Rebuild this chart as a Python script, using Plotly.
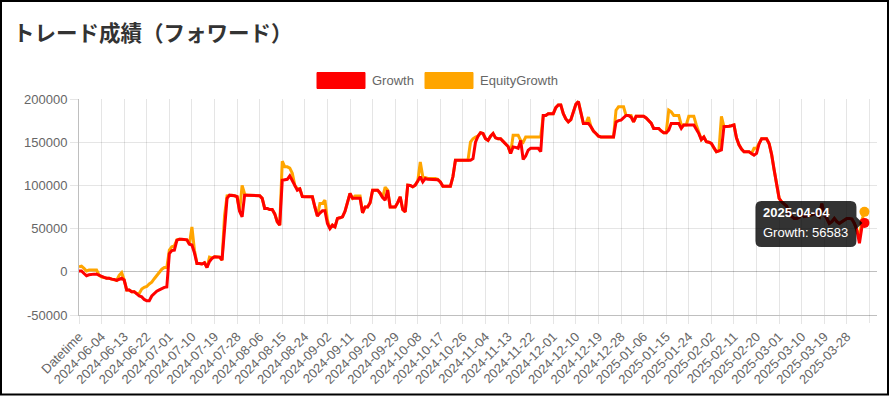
import plotly.graph_objects as go
import pandas as pd

# ---------------- data ----------------
dates = pd.date_range("2024-05-27", "2025-04-04", freq="D").strftime("%Y-%m-%d").tolist()
labels = ["Datetime"] + dates

growth = [
    1000, 1000, -2000, -4500, -3500, -2700, -2700, -2700, -4000, -6000,
    -6500, -7500, -7500, -8500, -8800, -10000, -9000, -7500, -9500, -21000,
    -21000, -23000, -23000, -26000, -28000, -29000, -32000, -33500, -33500, -28000,
    -25000, -22500, -21000, -19500, -18000, -17500, 21000, 24500, 25000, 36500,
    37700, 37700, 37700, 37000, 32000, 31000, 22000, 9700, 9700, 9000,
    10500, 5000, 12000, 15500, 17400, 17400, 17000, 13500, 45000, 85000,
    88700, 88700, 88000, 87000, 70000, 63600, 88700, 88700, 88700, 88700,
    88700, 88700, 88000, 85000, 73400, 73400, 72000, 72000, 67000, 58000,
    54000, 106000, 106500, 107000, 111000, 105000, 99000, 94500, 96000, 87000,
    86800, 86800, 86800, 86800, 75000, 64400, 68000, 70600, 70600, 56000,
    50000, 54000, 52000, 61800, 62500, 63600, 70000, 80000, 90700, 85000,
    85000, 85000, 85000, 68300, 75000, 75000, 80000, 94500, 94500, 94500,
    91000, 86000, 83000, 94500, 75000, 75000, 75000, 80000, 86800, 72000,
    69400, 100300, 100000, 98400, 100300, 105000, 110000, 104000, 108000, 107000,
    107000, 107000, 107000, 106500, 104000, 99000, 99000, 99000, 99000, 110000,
    129000, 129000, 129000, 129000, 129000, 129000, 129000, 131000, 150000, 157000,
    161000, 160000, 154000, 152000, 157000, 160000, 155000, 154000, 154000, 151000,
    148500, 145000, 137000, 144500, 144000, 143000, 152000, 130000, 134000, 140800,
    143000, 143000, 143000, 143000, 139000, 181000, 181000, 183000, 183000, 183000,
    190000, 193000, 193000, 183000, 177000, 173500, 176000, 186000, 194000, 197000,
    185000, 171600, 171600, 171600, 168000, 163000, 160000, 157000, 156000, 156000,
    155500, 155500, 155500, 156000, 173500, 175000, 175500, 178000, 181000, 181000,
    179000, 173500, 180000, 180000, 180000, 180000, 178000, 175500, 172000, 166000,
    166000, 166000, 163000, 161000, 161000, 164000, 171600, 171600, 171600, 171600,
    166000, 170000, 170000, 170000, 170000, 170000, 165000, 160000, 153000, 156000,
    150500, 150000, 148500, 143000, 139000, 140000, 141000, 168000, 168000, 168500,
    169000, 170000, 155000, 147000, 142000, 139000, 139000, 139000, 137000, 135000,
    137000, 148000, 154000, 154000, 154000, 148500, 136000, 118000, 100000, 85000,
    81000, 79000, 76000, 67600, 64000, 61800, 61800, 63000, 68300, 64000,
    64500, 64800, 66000, 67600, 66000, 63500, 79000, 66000, 62000, 56000,
    58000, 61800, 58000, 56000, 58000, 60000, 61800, 61800, 61000, 56000,
    48000, 33000, 52000, 56583,
]

equity_growth = [
    5800, 6500, 4000, 1000, 2000, 2000, 2000, 2000, -4000, -6000,
    -6500, -7500, -7500, -8500, -8800, -10000, -4000, -1000, -9500, -21000,
    -21000, -23000, -23000, -25000, -25000, -20000, -18000, -17000, -14000, -12000,
    -8000, -4000, 0, 3000, 5000, 5000, 25000, 29000, 30000, 37000,
    37700, 37700, 37700, 37000, 32000, 52000, 25000, 9700, 9700, 9000,
    10500, 5000, 17000, 16000, 17400, 17400, 17000, 13500, 65000, 88000,
    88700, 88700, 88000, 87000, 70000, 100000, 90000, 88700, 88700, 88700,
    88700, 88700, 88000, 85000, 73400, 73400, 72000, 72000, 67000, 58000,
    54000, 128000, 121500, 121500, 120000, 114000, 100000, 96000, 96000, 87000,
    86800, 86800, 86800, 86800, 75000, 64400, 79000, 79000, 83000, 60000,
    50000, 54000, 52000, 61800, 62500, 63600, 70000, 80000, 90700, 85000,
    87600, 87600, 87600, 68300, 75000, 75000, 80000, 94500, 94500, 94500,
    91000, 86000, 98000, 94500, 75000, 75000, 75000, 80000, 86800, 72000,
    69400, 100300, 100000, 98400, 100300, 105000, 127000, 110000, 109000, 108000,
    108000, 108000, 108000, 107000, 104000, 99000, 99000, 99000, 99000, 110000,
    129000, 129000, 129000, 129000, 129000, 129000, 150000, 154000, 156000, 157000,
    161000, 160000, 154000, 152000, 157000, 160000, 155000, 154000, 154000, 151000,
    148500, 145000, 137000, 158000, 158000, 158000, 152000, 150000, 156000, 156000,
    156000, 156000, 156000, 156000, 156000, 181000, 181000, 183000, 183000, 183000,
    190000, 193000, 193000, 183000, 177000, 173500, 176000, 186000, 194000, 197000,
    185000, 171600, 171600, 179000, 168000, 163000, 160000, 157000, 156000, 156000,
    155500, 155500, 155500, 156000, 187000, 191000, 191000, 191000, 181000, 181000,
    181000, 173500, 180000, 180000, 180000, 180000, 178000, 175500, 172000, 166000,
    166000, 166000, 163000, 161000, 161000, 187000, 185000, 181000, 181000, 181000,
    170000, 170000, 170000, 180000, 180000, 180000, 170000, 160000, 153000, 156000,
    150500, 150000, 148500, 143000, 139000, 140000, 180000, 168000, 168000, 168500,
    169000, 170000, 155000, 147000, 142000, 139000, 139000, 139000, 137000, 143000,
    143000, 148000, 154000, 154000, 154000, 148500, 136000, 118000, 100000, 85000,
    81000, 79000, 76000, 67600, 64000, 61800, 61800, 63000, 68300, 64000,
    64500, 64800, 66000, 67600, 66000, 63500, 79000, 66000, 62000, 56000,
    58000, 61800, 58000, 56000, 58000, 60000, 61800, 61800, 61000, 56000,
    48000, 40000, 60000, 69400,
]

x_tick_labels = labels[::9]
y_ticks = [-50000, 0, 50000, 100000, 150000, 200000]
series_names = ["Growth", "EquityGrowth"]

if len(growth) != len(labels) or len(equity_growth) != len(labels):
    raise SystemExit(f"length mismatch {len(labels)} {len(growth)} {len(equity_growth)}")

# ---------------- figure ----------------
RED = "#FF0000"
ORANGE = "#FFA500"
W, H = 891, 396
ML, MR, MT, MB = 79, 14, 99, 81
PW, PH = W - ML - MR, H - MT - MB


def px(xp):
    return (xp - ML) / PW


def py(yp):
    return (H - MB - yp) / PH


fig = go.Figure()
fig.add_trace(go.Scatter(x=labels, y=equity_growth, mode="lines", name=series_names[1],
                         line=dict(color=ORANGE, width=3)))
fig.add_trace(go.Scatter(x=labels, y=growth, mode="lines", name=series_names[0],
                         line=dict(color=RED, width=3)))
fig.add_trace(go.Scatter(x=[labels[-1]], y=[equity_growth[-1]], mode="markers",
                         marker=dict(color=ORANGE, size=10)))
fig.add_trace(go.Scatter(x=[labels[-1]], y=[growth[-1]], mode="markers",
                         marker=dict(color=RED, size=10)))

grid = "rgba(0,0,0,0.1)"
axisline = "rgba(0,0,0,0.25)"
tickfont = dict(family="Liberation Sans, Arial, sans-serif", size=13, color="#666")

fig.update_layout(
    width=W, height=H,
    margin=dict(l=ML, r=MR, t=MT, b=MB),
    paper_bgcolor="white", plot_bgcolor="white",
    showlegend=False, hovermode=False,
    title=dict(text="トレード成績（フォワード）", xref="container", yref="container",
               x=13 / W, xanchor="left", y=1 - 33 / H, yanchor="middle",
               font=dict(family="Noto Sans CJK JP", size=21.5, color="#333", weight="bold")),
    xaxis=dict(type="category", range=[0, 318], tickmode="array",
               tickvals=x_tick_labels, ticktext=x_tick_labels, tickangle=-45,
               showgrid=True, gridcolor=grid, gridwidth=1,
               ticks="outside", ticklen=8, tickcolor=grid,
               showline=True, linecolor=axisline, linewidth=1,
               tickfont=tickfont, automargin=False, zeroline=False),
    yaxis=dict(range=[-50000, 200000], tickmode="array", tickvals=y_ticks,
               ticktext=[str(v) for v in y_ticks],
               showgrid=True, gridcolor=grid, gridwidth=1,
               zeroline=True, zerolinecolor=axisline, zerolinewidth=1,
               ticks="outside", ticklen=8, tickcolor=grid,
               showline=True, linecolor=axisline, linewidth=1,
               tickfont=tickfont, automargin=False),
)

shapes = []
# stray right grid line
shapes.append(dict(type="line", xref="x", yref="paper", x0=315, x1=315, y0=-8 / PH, y1=1,
                   line=dict(color=grid, width=1), layer="below"))
# legend boxes
legend_items = [(317, 365, RED, series_names[0]), (425, 473, ORANGE, series_names[1])]
annotations = []
for x0, x1, col, name in legend_items:
    shapes.append(dict(type="rect", xref="paper", yref="paper", x0=px(x0), x1=px(x1),
                       y0=py(88.5), y1=py(72.5), fillcolor=col, line=dict(color=col, width=1)))
    annotations.append(dict(xref="paper", yref="paper", x=px(x1 + 5), y=py(80.5),
                            xanchor="left", yanchor="middle", showarrow=False, text=name,
                            font=dict(family="Liberation Sans, Arial, sans-serif", size=13, color="#666")))

# tooltip box (pixel offsets relative to the hovered point)
bx0, bx1, by0, by1, r = -109, -8, -24, 22, 6
path = (f"M {bx0 + r},{by1} L {bx1 - r},{by1} Q {bx1},{by1} {bx1},{by1 - r} "
        f"L {bx1},6 L {bx1 + 6},0 L {bx1},-6 "
        f"L {bx1},{by0 + r} Q {bx1},{by0} {bx1 - r},{by0} L {bx0 + r},{by0} "
        f"Q {bx0},{by0} {bx0},{by0 + r} L {bx0},{by1 - r} Q {bx0},{by1} {bx0 + r},{by1} Z")
shapes.append(dict(type="path", xref="x", yref="y", xsizemode="pixel", ysizemode="pixel",
                   xanchor=len(labels) - 1, yanchor=growth[-1], path=path,
                   fillcolor="rgba(0,0,0,0.8)", line=dict(width=0), layer="above"))
tipfont = dict(family="Liberation Sans, Arial, sans-serif", size=13, color="white")
annotations.append(dict(xref="x", yref="y", x=len(labels) - 1, y=growth[-1], xshift=-103, yshift=10.5,
                        xanchor="left", yanchor="middle", showarrow=False,
                        text=f"<b>{labels[-1]}</b>", font=tipfont))
annotations.append(dict(xref="x", yref="y", x=len(labels) - 1, y=growth[-1], xshift=-103, yshift=-10,
                        xanchor="left", yanchor="middle", showarrow=False,
                        text=f"{series_names[0]}: {growth[-1]}", font=tipfont))

# outer border
shapes.append(dict(type="rect", xref="paper", yref="paper", x0=px(1), x1=px(888),
                   y0=py(394.5), y1=py(1), line=dict(color="black", width=2), layer="above"))

fig.update_layout(shapes=shapes, annotations=annotations)
fig.write_html("out.html", config={"displayModeBar": False},
               post_script="document.body.style.margin='0';document.body.style.overflow='hidden';")
